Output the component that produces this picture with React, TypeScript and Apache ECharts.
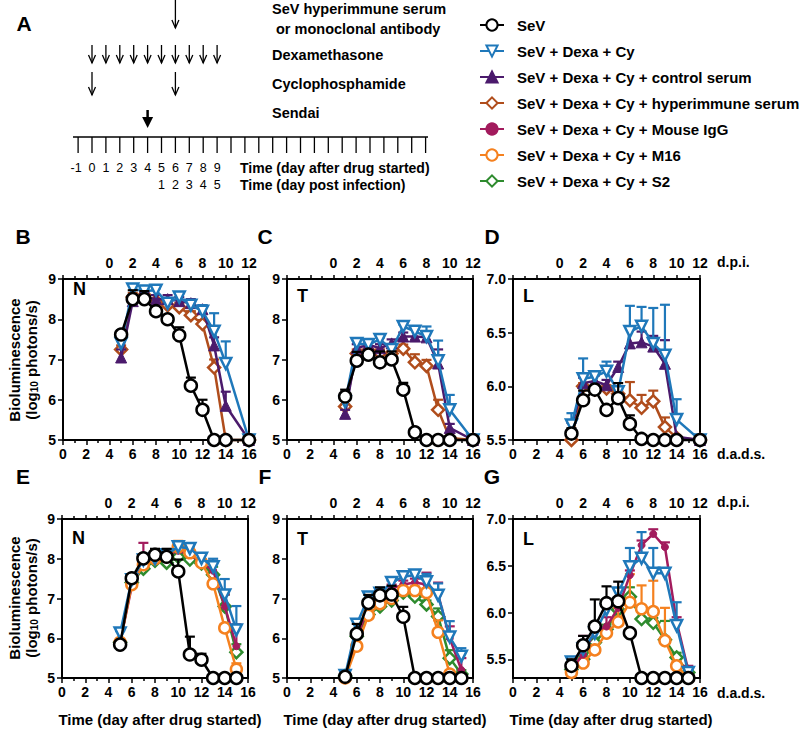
import React, { useEffect, useRef } from 'react';
import * as echarts from 'echarts';

const FONT = 'Arial, "Liberation Sans", Helvetica, sans-serif';

// ---------- x values (days after drug started) ----------
const DAYS_TOP = [5, 6, 7, 8, 9, 10, 11, 12, 13, 14, 16];
const DAYS_BOTTOM = [5, 6, 7, 8, 9, 10, 11, 12, 13, 14, 15];

// ---------- panel A schedule ----------
const TIMELINE_LABELS = [-1, 0, 1, 2, 3, 4, 5, 6, 7, 8, 9];
const TIMELINE_TICK_COUNT = 26;
const DPI_LABELS = [1, 2, 3, 4, 5];
const DPI_LABEL_DAYS = [5, 6, 7, 8, 9];
const SERUM_DAYS = [6];
const DEXA_DAYS = [0, 1, 2, 3, 4, 5, 6, 7, 8, 9];
const CYCLO_DAYS = [0, 6];
const SENDAI_DAYS = [4];

// ---------- legend names ----------
const NAME_SEV = 'SeV';
const NAME_CY = 'SeV + Dexa + Cy';
const NAME_CTRL = 'SeV + Dexa + Cy + control serum';
const NAME_HYPER = 'SeV + Dexa + Cy + hyperimmune serum';
const NAME_IGG = 'SeV + Dexa + Cy + Mouse IgG';
const NAME_M16 = 'SeV + Dexa + Cy + M16';
const NAME_S2 = 'SeV + Dexa + Cy + S2';
const LEGEND_NAMES = [NAME_SEV, NAME_CY, NAME_CTRL, NAME_HYPER, NAME_IGG, NAME_M16, NAME_S2];

// ---------- panel B (N, top row) ----------
const B_SEV = [7.62, 8.5, 8.5, 8.2, 8.0, 7.6, 6.35, 5.75, 5.0, 5.0, 5.0];
const B_SEV_ERR = [0.1, 0.22, 0.2, 0, 0.1, 0.2, 0.2, 0.25, 0, 0, 0];
const B_CY = [7.4, 8.75, 8.7, 8.72, 8.4, 8.55, 8.35, 8.2, 7.7, 6.9, 5.0];
const B_CY_ERR = [0, 0, 0.05, 0.05, 0.05, 0.1, 0.05, 0.15, 0.45, 0.55, 0];
const B_CTRL = [7.05, 8.45, 8.55, 8.5, 8.5, 8.45, 8.4, 8.25, 7.35, 5.85, 5.0];
const B_CTRL_ERR = [0.2, 0.1, 0.1, 0.1, 0.1, 0.1, 0.1, 0.1, 0.2, 0.35, 0];
const B_HYPER = [7.25, 8.55, 8.6, 8.45, 8.35, 8.3, 8.1, 7.88, 6.8, 5.0, 5.0];
const B_HYPER_ERR = [0.1, 0.1, 0.1, 0.05, 0.1, 0.1, 0.1, 0.1, 0.2, 0, 0];

// ---------- panel C (T, top row) ----------
const C_SEV = [6.08, 6.97, 7.12, 6.93, 7.0, 6.25, 5.19, 5.0, 5.0, 5.0, 5.0];
const C_SEV_ERR = [0.17, 0.22, 0.1, 0.27, 0.2, 0.17, 0, 0, 0, 0, 0];
const C_CY = [5.95, 7.4, 7.37, 7.5, 7.25, 7.82, 7.7, 7.57, 6.97, 5.75, 5.0];
const C_CY_ERR = [0.1, 0.1, 0.1, 0.05, 0.1, 0.05, 0.1, 0.25, 0.5, 0.37, 0];
const C_CTRL = [5.65, 7.28, 7.37, 7.28, 7.4, 7.57, 7.57, 7.55, 6.9, 5.3, 5.0];
const C_CTRL_ERR = [0.1, 0.1, 0.1, 0.1, 0.1, 0.1, 0.2, 0.15, 0.35, 0.1, 0];
const C_HYPER = [5.83, 7.15, 7.23, 7.15, 7.15, 7.27, 6.93, 6.84, 5.75, 5.05, 5.0];
const C_HYPER_ERR = [0.05, 0.1, 0.2, 0.1, 0.05, 0.1, 0.2, 0.15, 0.25, 0.05, 0];

// ---------- panel D (L, top row) ----------
const D_SEV = [5.56, 5.87, 5.97, 5.78, 5.89, 5.65, 5.51, 5.5, 5.5, 5.5, 5.5];
const D_SEV_ERR = [0.05, 0.09, 0.03, 0, 0.14, 0.08, 0, 0, 0, 0, 0];
const D_CY = [5.64, 6.07, 6.09, 6.14, 5.95, 6.51, 6.56, 6.4, 6.29, 5.69, 5.5];
const D_CY_ERR = [0.11, 0.19, 0.05, 0.09, 0.05, 0.24, 0.18, 0.33, 0.47, 0.19, 0];
const D_CTRL = [5.61, 6.03, 6.05, 6.01, 6.18, 6.4, 6.41, 6.37, 6.21, 5.53, 5.5];
const D_CTRL_ERR = [0.05, 0.05, 0.05, 0.05, 0.05, 0.16, 0.1, 0.1, 0.22, 0, 0];
const D_HYPER = [5.5, 6.0, 5.97, 5.98, 5.93, 5.87, 5.8, 5.86, 5.62, 5.52, 5.5];
const D_HYPER_ERR = [0, 0.03, 0.03, 0.03, 0.03, 0.17, 0.12, 0.1, 0.09, 0, 0];

// ---------- panel E (N, bottom row) ----------
const E_SEV = [5.84, 7.51, 8.01, 8.1, 8.05, 7.68, 5.59, 5.46, 5.0, 5.0, 5.0];
const E_SEV_ERR = [0.05, 0.1, 0.05, 0.15, 0.2, 0.3, 0.45, 0.15, 0, 0, 0];
const E_CY = [6.13, 7.47, 7.97, 8.0, 8.1, 8.3, 8.26, 8.01, 7.8, 7.09, 6.21];
const E_CY_ERR = [0.05, 0.05, 0.05, 0.1, 0.1, 0.05, 0.05, 0.1, 0.2, 0.4, 0.6];
const E_IGG = [5.9, 7.3, 7.9, 8.0, 8.1, 8.2, 8.1, 7.9, 7.7, 6.8, 5.8];
const E_IGG_ERR = [0.05, 0.1, 0.5, 0.05, 0.1, 0.1, 0.1, 0.2, 0.25, 0.3, 0.55];
const E_M16 = [5.9, 7.35, 7.85, 8.0, 8.05, 8.3, 8.15, 7.9, 7.37, 6.26, 5.22];
const E_M16_ERR = [0.05, 0.1, 0.1, 0.05, 0.1, 0.15, 0.1, 0.1, 0.1, 0.1, 0.15];
const E_S2 = [5.9, 7.4, 7.75, 7.95, 7.9, 8.05, 7.98, 7.88, 7.6, 6.8, 5.65];
const E_S2_ERR = [0.05, 0.05, 0.05, 0.05, 0.05, 0.1, 0.1, 0.1, 0.2, 0.3, 0.2];

// ---------- panel F (T, bottom row) ----------
const F_SEV = [5.03, 6.11, 6.89, 7.08, 7.1, 6.54, 5.0, 5.0, 5.0, 5.0, 5.0];
const F_SEV_ERR = [0, 0.25, 0.2, 0.2, 0.22, 0.25, 0, 0, 0, 0, 0];
const F_CY = [5.06, 6.35, 7.04, 7.13, 7.4, 7.55, 7.59, 7.42, 7.08, 6.03, 5.55];
const F_CY_ERR = [0.05, 0.1, 0.1, 0.1, 0.05, 0.1, 0.1, 0.2, 0.3, 0.4, 0.2];
const F_IGG = [5.05, 6.0, 6.8, 7.0, 7.25, 7.35, 7.4, 7.35, 7.1, 6.0, 5.2];
const F_IGG_ERR = [0.05, 0.1, 0.1, 0.1, 0.1, 0.1, 0.1, 0.3, 0.3, 0.3, 0.3];
const F_M16 = [5.0, 5.8, 6.58, 6.87, 7.0, 7.2, 7.2, 7.15, 6.15, 5.1, 5.0];
const F_M16_ERR = [0, 0.05, 0.1, 0.1, 0.1, 0.1, 0.1, 0.1, 0.3, 0.05, 0];
const F_S2 = [5.05, 6.05, 6.6, 6.8, 6.95, 7.15, 7.05, 6.85, 6.55, 5.5, 5.1];
const F_S2_ERR = [0, 0.05, 0.1, 0.1, 0.1, 0.1, 0.1, 0.1, 0.2, 0.2, 0.1];

// ---------- panel G (L, bottom row) ----------
const G_SEV = [5.43, 5.65, 5.85, 6.1, 6.12, 5.78, 5.3, 5.3, 5.3, 5.3, 5.3];
const G_SEV_ERR = [0.07, 0.1, 0.29, 0.18, 0.21, 0, 0, 0, 0, 0, 0];
const G_CY = [5.47, 5.61, 5.78, 6.03, 6.21, 6.49, 6.58, 6.42, 6.42, 5.86, 5.36];
const G_CY_ERR = [0.05, 0.05, 0.1, 0.1, 0.05, 0.2, 0.28, 0.27, 0.05, 0.25, 0];
const G_IGG = [5.4, 5.55, 5.8, 5.85, 6.05, 6.4, 6.72, 6.84, 6.7, 5.9, 5.38];
const G_IGG_ERR = [0.05, 0.2, 0.05, 0.1, 0.1, 0.05, 0.05, 0.05, 0.05, 0.05, 0.05];
const G_M16 = [5.36, 5.46, 5.6, 5.78, 5.9, 6.11, 6.04, 6.01, 5.7, 5.43, 5.3];
const G_M16_ERR = [0.03, 0.05, 0.05, 0.05, 0.15, 0.3, 0.25, 0.33, 0.35, 0.05, 0];
const G_S2 = [5.39, 5.5, 5.68, 5.82, 6.03, 6.17, 5.93, 5.89, 5.71, 5.52, 5.36];
const G_S2_ERR = [0.03, 0.05, 0.05, 0.05, 0.05, 0.1, 0.1, 0.05, 0.2, 0.05, 0.03];

// ---------- axis ticks ----------
const Y_TICKS_LUNG_BOTTOM = [5.5, 6.0, 6.5, 7.0];

// ---------- styles ----------
const STYLE: Record<string, any> = {
  sev: { name: NAME_SEV, color: '#000000', symbol: 'circle', size: 12, hollow: true, rotate: 0 },
  cy: { name: NAME_CY, color: '#1f78ba', symbol: 'triangle', size: 11, hollow: true, rotate: 180 },
  ctrl: { name: NAME_CTRL, color: '#4b1a6c', symbol: 'triangle', size: 11, hollow: false, rotate: 0 },
  hyper: { name: NAME_HYPER, color: '#b04d1c', symbol: 'diamond', size: 12, hollow: true, rotate: 0 },
  igg: { name: NAME_IGG, color: '#a21b5d', symbol: 'circle', size: 7, hollow: false, rotate: 0 },
  m16: { name: NAME_M16, color: '#f5811f', symbol: 'circle', size: 11, hollow: true, rotate: 0 },
  s2: { name: NAME_S2, color: '#2e8b2e', symbol: 'diamond', size: 12, hollow: true, rotate: 0 },
};

const PANELS = [
  {
    letter: 'B', letterX: 23, tissue: 'N', tissueDy: 10, days: DAYS_TOP, yKind: 'std',
    grid: { left: 63, top: 279, width: 186, height: 161 },
    series: [['hyper', B_HYPER, B_HYPER_ERR], ['ctrl', B_CTRL, B_CTRL_ERR], ['cy', B_CY, B_CY_ERR], ['sev', B_SEV, B_SEV_ERR]],
  },
  {
    letter: 'C', letterX: 265, tissue: 'T', tissueDy: 17, days: DAYS_TOP, yKind: 'std',
    grid: { left: 287, top: 279, width: 186, height: 161 },
    series: [['hyper', C_HYPER, C_HYPER_ERR], ['ctrl', C_CTRL, C_CTRL_ERR], ['cy', C_CY, C_CY_ERR], ['sev', C_SEV, C_SEV_ERR]],
  },
  {
    letter: 'D', letterX: 492, tissue: 'L', tissueDy: 17, days: DAYS_TOP, yKind: 'lungTop',
    grid: { left: 513, top: 279, width: 187, height: 161 },
    series: [['hyper', D_HYPER, D_HYPER_ERR], ['ctrl', D_CTRL, D_CTRL_ERR], ['cy', D_CY, D_CY_ERR], ['sev', D_SEV, D_SEV_ERR]],
  },
  {
    letter: 'E', letterX: 23, tissue: 'N', tissueDy: 19, days: DAYS_BOTTOM, yKind: 'std',
    grid: { left: 62, top: 519, width: 186, height: 159 },
    series: [['s2', E_S2, E_S2_ERR], ['igg', E_IGG, E_IGG_ERR], ['m16', E_M16, E_M16_ERR], ['cy', E_CY, E_CY_ERR], ['sev', E_SEV, E_SEV_ERR]],
  },
  {
    letter: 'F', letterX: 265, tissue: 'T', tissueDy: 20, days: DAYS_BOTTOM, yKind: 'std',
    grid: { left: 287, top: 519, width: 186, height: 159 },
    series: [['s2', F_S2, F_S2_ERR], ['igg', F_IGG, F_IGG_ERR], ['m16', F_M16, F_M16_ERR], ['cy', F_CY, F_CY_ERR], ['sev', F_SEV, F_SEV_ERR]],
  },
  {
    letter: 'G', letterX: 492, tissue: 'L', tissueDy: 20, days: DAYS_BOTTOM, yKind: 'lungBottom',
    grid: { left: 513, top: 519, width: 187, height: 159 },
    series: [['s2', G_S2, G_S2_ERR], ['m16', G_M16, G_M16_ERR], ['igg', G_IGG, G_IGG_ERR], ['cy', G_CY, G_CY_ERR], ['sev', G_SEV, G_SEV_ERR]],
  },
];

const tickFont = { fontSize: 14, fontWeight: 'bold', color: '#000', fontFamily: FONT };
const axisLineStyle = { color: '#000', width: 2 };

function buildOption() {
  const grid: any[] = [];
  const xAxis: any[] = [];
  const yAxis: any[] = [];
  const series: any[] = [];
  const graphic: any[] = [];

  PANELS.forEach((p, i) => {
    grid.push({ ...p.grid, show: true, borderColor: '#000', borderWidth: 2, backgroundColor: 'transparent' });
    xAxis.push({
      type: 'value', gridIndex: i, position: 'bottom', min: 0, max: 16, interval: 2,
      axisLine: { show: true, onZero: false, lineStyle: axisLineStyle },
      axisTick: { show: true, length: 5, lineStyle: { color: '#000', width: 1.5 } },
      minorTick: { show: true, splitNumber: 2, length: 3, lineStyle: { color: '#000', width: 1.5 } },
      axisLabel: { ...tickFont, margin: 7, showMinLabel: true, showMaxLabel: true },
      splitLine: { show: false }, minorSplitLine: { show: false },
    });
    xAxis.push({
      type: 'value', gridIndex: i, position: 'top', min: -4, max: 12, interval: 2,
      axisLine: { show: true, onZero: false, lineStyle: axisLineStyle },
      axisTick: { show: true, length: 4, lineStyle: { color: '#000', width: 1.5 } },
      minorTick: { show: true, splitNumber: 2, length: 3, lineStyle: { color: '#000', width: 1.5 } },
      axisLabel: { ...tickFont, margin: 9, showMinLabel: true, showMaxLabel: true, formatter: (v: number) => (v < 0 ? '' : String(v)) },
      splitLine: { show: false }, minorSplitLine: { show: false },
    });
    const yBase: any = {
      type: 'value', gridIndex: i,
      axisLine: { show: true, onZero: false, lineStyle: axisLineStyle },
      axisTick: { show: true, length: 5, lineStyle: { color: '#000', width: 1.5 } },
      axisLabel: { ...tickFont, margin: 7, showMinLabel: true, showMaxLabel: true },
      splitLine: { show: false },
    };
    if (p.yKind === 'std') {
      yAxis.push({ ...yBase, min: 5, max: 9, interval: 1 });
    } else if (p.yKind === 'lungTop') {
      yAxis.push({ ...yBase, min: 5.5, max: 7, interval: 0.5, axisLabel: { ...yBase.axisLabel, formatter: (v: number) => v.toFixed(1) } });
    } else {
      yAxis.push({
        ...yBase, min: 5.3, max: 7,
        axisTick: { ...yBase.axisTick, customValues: Y_TICKS_LUNG_BOTTOM },
        axisLabel: { ...yBase.axisLabel, customValues: Y_TICKS_LUNG_BOTTOM, formatter: (v: number) => v.toFixed(1) },
      });
    }

    p.series.forEach((s: any, k: number) => {
      const key = s[0];
      const vals: number[] = s[1];
      const errs: number[] = s[2];
      const st = STYLE[key];
      const z = 2 + k;
      series.push({
        type: 'custom', name: key + '-err-' + i, xAxisIndex: 2 * i, yAxisIndex: i, z, silent: true,
        encode: { x: 0, y: 1 },
        data: p.days.map((d, j) => [d, vals[j], errs[j]]),
        renderItem: (params: any, api: any) => {
          const e = api.value(2);
          if (!e || e <= 0) return null;
          const x = api.value(0);
          const y = api.value(1);
          const p0 = api.coord([x, y]);
          const p1 = api.coord([x, y + e]);
          return {
            type: 'group',
            children: [
              { type: 'line', shape: { x1: p0[0], y1: p0[1], x2: p1[0], y2: p1[1] }, style: { stroke: st.color, lineWidth: 2.2 } },
              { type: 'line', shape: { x1: p1[0] - 5, y1: p1[1], x2: p1[0] + 5, y2: p1[1] }, style: { stroke: st.color, lineWidth: 2.2 } },
            ],
          };
        },
      });
      series.push({
        type: 'line', name: st.name, xAxisIndex: 2 * i, yAxisIndex: i, z,
        data: p.days.map((d, j) => [d, vals[j]]),
        symbol: st.symbol, symbolSize: st.size, symbolRotate: st.rotate, showSymbol: true, clip: false,
        lineStyle: { color: st.color, width: 2.5 },
        itemStyle: { color: st.hollow ? '#fff' : st.color, borderColor: st.color, borderWidth: st.hollow ? 2.5 : 1 },
        emphasis: { disabled: true },
      });
    });

    // panel letter
    graphic.push({
      type: 'text', x: p.letterX, y: p.grid.top - 43,
      style: { text: p.letter, fontSize: 21, fontWeight: 'bold', fontFamily: FONT, fill: '#000', textAlign: 'center', textVerticalAlign: 'middle' },
    });
    // tissue label
    graphic.push({
      type: 'text', x: p.grid.left + 10, y: p.grid.top + p.tissueDy,
      style: { text: p.tissue, fontSize: 18, fontWeight: 'bold', fontFamily: FONT, fill: '#000', textAlign: 'left', textVerticalAlign: 'middle' },
    });
  });

  // d.p.i. / d.a.d.s. labels
  const axisNameStyle = { fontSize: 14, fontWeight: 'bold', fontFamily: FONT, fill: '#000', textAlign: 'left', textVerticalAlign: 'middle' };
  graphic.push({ type: 'text', x: 717, y: 262, style: { ...axisNameStyle, text: 'd.p.i.' } });
  graphic.push({ type: 'text', x: 717, y: 454, style: { ...axisNameStyle, text: 'd.a.d.s.' } });
  graphic.push({ type: 'text', x: 717, y: 502, style: { ...axisNameStyle, text: 'd.p.i.' } });
  graphic.push({ type: 'text', x: 717, y: 693, style: { ...axisNameStyle, text: 'd.a.d.s.' } });

  // y-axis titles
  [360, 598].forEach((cy) => {
    graphic.push({
      type: 'text', x: 14, y: cy, rotation: Math.PI / 2,
      style: { text: 'Bioluminescence', fontSize: 15, fontWeight: 'bold', fontFamily: FONT, fill: '#000', textAlign: 'center', textVerticalAlign: 'middle' },
    });
    graphic.push({
      type: 'text', x: 31, y: cy, rotation: Math.PI / 2,
      style: {
        text: '(log{s|10} photons/s)', fontSize: 15, fontWeight: 'bold', fontFamily: FONT, fill: '#000', textAlign: 'center', textVerticalAlign: 'middle',
        rich: { s: { fontSize: 10, fontWeight: 'bold', fontFamily: FONT, fill: '#000', verticalAlign: 'bottom', padding: [6, 0, 0, 0] } },
      },
    });
  });

  // bottom titles
  [160, 385, 611].forEach((cx) => {
    graphic.push({
      type: 'text', x: cx, y: 719,
      style: { text: 'Time (day after drug started)', fontSize: 15, fontWeight: 'bold', fontFamily: FONT, fill: '#000', textAlign: 'center', textVerticalAlign: 'middle' },
    });
  });

  // ---------- panel A ----------
  const dayX = (d: number) => 92 + d * 13.9;
  const thinArrow = (x: number, y1: number, y2: number) => ({
    type: 'group',
    children: [
      { type: 'line', shape: { x1: x, y1, x2: x, y2 }, style: { stroke: '#000', lineWidth: 1.3 } },
      { type: 'polyline', shape: { points: [[x - 3.5, y2 - 8], [x, y2], [x + 3.5, y2 - 8]] }, style: { stroke: '#000', lineWidth: 1.3, fill: 'none' } },
    ],
  });
  graphic.push({ type: 'text', x: 24, y: 23, style: { text: 'A', fontSize: 21, fontWeight: 'bold', fontFamily: FONT, fill: '#000', textAlign: 'center', textVerticalAlign: 'middle' } });
  SERUM_DAYS.forEach((d) => graphic.push(thinArrow(dayX(d), 0, 28)));
  DEXA_DAYS.forEach((d) => graphic.push(thinArrow(dayX(d), 45, 63)));
  CYCLO_DAYS.forEach((d) => graphic.push(thinArrow(dayX(d), 72, 95)));
  SENDAI_DAYS.forEach((d) => {
    const x = dayX(d);
    graphic.push({ type: 'line', shape: { x1: x, y1: 110, x2: x, y2: 119 }, style: { stroke: '#000', lineWidth: 2.5 } });
    graphic.push({ type: 'polygon', shape: { points: [[x - 5.5, 117], [x + 5.5, 117], [x, 128]] }, style: { fill: '#000' } });
  });
  // timeline
  graphic.push({ type: 'line', shape: { x1: 73, y1: 137, x2: 428, y2: 137 }, style: { stroke: '#000', lineWidth: 1.5 } });
  for (let k = 0; k < TIMELINE_TICK_COUNT; k++) {
    const x = dayX(k - 1);
    graphic.push({ type: 'line', shape: { x1: x, y1: 137, x2: x, y2: 153 }, style: { stroke: '#000', lineWidth: 1.3 } });
  }
  const aNum = { fontSize: 12.5, fontFamily: FONT, fill: '#000', textAlign: 'center', textVerticalAlign: 'middle' };
  TIMELINE_LABELS.forEach((d) => graphic.push({ type: 'text', x: dayX(d) - (d < 0 ? 2 : 0), y: 168, style: { ...aNum, text: String(d) } }));
  DPI_LABELS.forEach((v, k) => graphic.push({ type: 'text', x: dayX(DPI_LABEL_DAYS[k]), y: 185, style: { ...aNum, text: String(v) } }));
  const aBold = { fontSize: 14, fontWeight: 'bold', fontFamily: FONT, fill: '#000', textAlign: 'left', textVerticalAlign: 'middle' };
  graphic.push({ type: 'text', x: 240, y: 168, style: { ...aBold, text: 'Time (day after drug started)' } });
  graphic.push({ type: 'text', x: 240, y: 185, style: { ...aBold, text: 'Time (day post infection)' } });
  const aLab = { fontSize: 14.5, fontWeight: 'bold', fontFamily: FONT, fill: '#000', textAlign: 'left', textVerticalAlign: 'middle' };
  graphic.push({ type: 'text', x: 272, y: 9, style: { ...aLab, text: 'SeV hyperimmune serum' } });
  graphic.push({ type: 'text', x: 276, y: 29, style: { ...aLab, text: 'or monoclonal antibody' } });
  graphic.push({ type: 'text', x: 272, y: 55, style: { ...aLab, text: 'Dexamethasone' } });
  graphic.push({ type: 'text', x: 272, y: 84, style: { ...aLab, text: 'Cyclophosphamide' } });
  graphic.push({ type: 'text', x: 272, y: 113, style: { ...aLab, text: 'Sendai' } });

  return {
    animation: false,
    backgroundColor: '#fff',
    textStyle: { fontFamily: FONT },
    legend: {
      data: LEGEND_NAMES, orient: 'vertical', left: 474, top: 12,
      itemWidth: 24, itemHeight: 14, itemGap: 10, selectedMode: false,
      textStyle: { fontSize: 15, fontWeight: 'bold', color: '#000', fontFamily: FONT, lineHeight: 16, padding: [0, 0, 0, 8] },
    },
    grid, xAxis, yAxis, series,
    graphic: { elements: graphic },
  };
}

export default function App() {
  const ref = useRef<HTMLDivElement>(null);
  useEffect(() => {
    if (!ref.current) return;
    const chart = echarts.init(ref.current, undefined, { renderer: 'svg' });
    chart.setOption(buildOption() as any);
    return () => chart.dispose();
  }, []);
  return <div ref={ref} style={{ position: 'absolute', left: 0, top: 0, width: 800, height: 729, background: '#fff' }} />;
}
